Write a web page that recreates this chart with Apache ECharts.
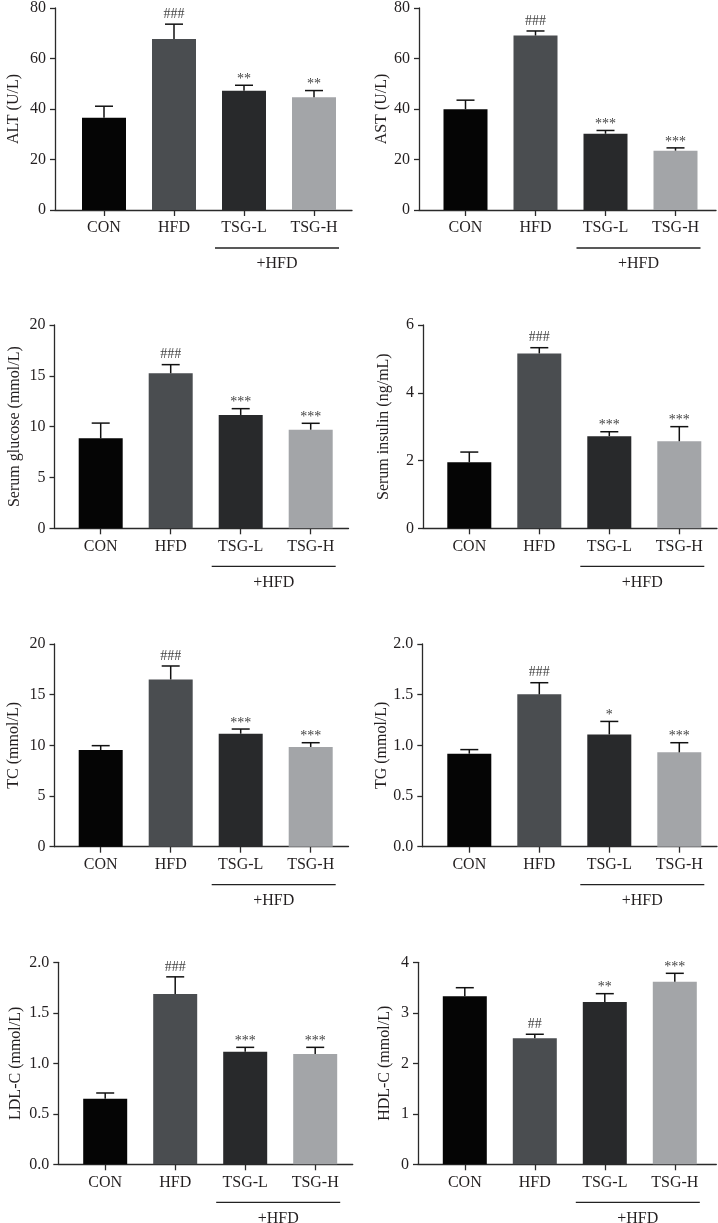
<!DOCTYPE html>
<html><head><meta charset="utf-8">
<script src="https://cdn.jsdelivr.net/npm/echarts@6/dist/echarts.min.js"></script>
<style>html,body{margin:0;padding:0;background:#fff}#c{width:718px;height:1223px}</style>
</head><body><div id="c"></div>
<script>
// ---------- data ----------
const categories = ['CON', 'HFD', 'TSG-L', 'TSG-H'];
const groupLabel = '+HFD';

const altTitle = 'ALT (U/L)';
const altTicks = [0, 20, 40, 60, 80];
const altMean = [36.5, 67.7, 47.2, 44.7];
const altErr = [4.6, 5.9, 2.2, 2.6];
const altSig = ['', '###', '**', '**'];

const astTitle = 'AST (U/L)';
const astTicks = [0, 20, 40, 60, 80];
const astMean = [39.9, 69.1, 30.2, 23.5];
const astErr = [3.6, 1.8, 1.3, 1.1];
const astSig = ['', '###', '***', '***'];

const gluTitle = 'Serum glucose (mmol/L)';
const gluTicks = [0, 5, 10, 15, 20];
const gluMean = [8.85, 15.25, 11.15, 9.7];
const gluErr = [1.5, 0.85, 0.62, 0.63];
const gluSig = ['', '###', '***', '***'];

const insTitle = 'Serum insulin (ng/mL)';
const insTicks = [0, 2, 4, 6];
const insMean = [1.95, 5.16, 2.72, 2.57];
const insErr = [0.3, 0.17, 0.13, 0.43];
const insSig = ['', '###', '***', '***'];

const tcTitle = 'TC (mmol/L)';
const tcTicks = [0, 5, 10, 15, 20];
const tcMean = [9.54, 16.5, 11.15, 9.84];
const tcErr = [0.43, 1.33, 0.46, 0.42];
const tcSig = ['', '###', '***', '***'];

const tgTitle = 'TG (mmol/L)';
const tgTicks = [0.0, 0.5, 1.0, 1.5, 2.0];
const tgMean = [0.918, 1.503, 1.108, 0.931];
const tgErr = [0.04, 0.115, 0.128, 0.095];
const tgSig = ['', '###', '*', '***'];

const ldlTitle = 'LDL-C (mmol/L)';
const ldlTicks = [0.0, 0.5, 1.0, 1.5, 2.0];
const ldlMean = [0.65, 1.686, 1.115, 1.092];
const ldlErr = [0.056, 0.17, 0.043, 0.066];
const ldlSig = ['', '###', '***', '***'];

const hdlTitle = 'HDL-C (mmol/L)';
const hdlTicks = [0, 1, 2, 3, 4];
const hdlMean = [3.327, 2.495, 3.214, 3.617];
const hdlErr = [0.17, 0.08, 0.165, 0.165];
const hdlSig = ['', '##', '**', '***'];

const tickDecimals = [0, 0, 0, 0, 0, 1, 1, 0];

// ---------- layout / style ----------
const barColors = ['#050505', '#4a4d50', '#28292b', '#a3a5a8'];
const panels = [
  { title: altTitle, ticks: altTicks, mean: altMean, err: altErr, sig: altSig },
  { title: astTitle, ticks: astTicks, mean: astMean, err: astErr, sig: astSig },
  { title: gluTitle, ticks: gluTicks, mean: gluMean, err: gluErr, sig: gluSig },
  { title: insTitle, ticks: insTicks, mean: insMean, err: insErr, sig: insSig },
  { title: tcTitle, ticks: tcTicks, mean: tcMean, err: tcErr, sig: tcSig },
  { title: tgTitle, ticks: tgTicks, mean: tgMean, err: tgErr, sig: tgSig },
  { title: ldlTitle, ticks: ldlTicks, mean: ldlMean, err: ldlErr, sig: ldlSig },
  { title: hdlTitle, ticks: hdlTicks, mean: hdlMean, err: hdlErr, sig: hdlSig }
];
const layouts = [
  { left: 55, right: 352, top: 7, bottom: 210, first: 104, gap: 33 },
  { left: 419, right: 716, top: 7, bottom: 210, first: 465.5, gap: 29 },
  { left: 54.5, right: 348.5, top: 325, bottom: 528.3, first: 100.7, gap: 32 },
  { left: 423, right: 717, top: 325, bottom: 528.3, first: 469.3, gap: 31 },
  { left: 54.5, right: 348.5, top: 644, bottom: 846.7, first: 100.7, gap: 33 },
  { left: 422.3, right: 717, top: 644, bottom: 846.7, first: 469.3, gap: 32 },
  { left: 58.3, right: 352.7, top: 962.3, bottom: 1164.3, first: 105.2, gap: 35 },
  { left: 418, right: 716.3, top: 962.3, bottom: 1164.3, first: 464.8, gap: 25 }
];
const STEP = 70;
const FONT = '"Liberation Serif", "DejaVu Serif", serif';
const TXT = '#231f20';
const AXC = '#2a2a2a';

const grids = [], xAxes = [], yAxes = [], series = [];
panels.forEach((p, i) => {
  const L = layouts[i];
  const W = L.right - L.left;
  const xmin = -(L.first - L.left) / STEP;
  const xmax = xmin + W / STEP;
  grids.push({ left: L.left, top: L.top, width: W, height: L.bottom - L.top, containLabel: false });
  xAxes.push({
    type: 'value', gridIndex: i, min: xmin, max: xmax,
    splitLine: { show: false },
    axisLine: { show: true, onZero: false, lineStyle: { color: AXC, width: 1.3 } },
    axisTick: { show: true, customValues: [0, 1, 2, 3], length: 6, lineStyle: { color: AXC, width: 1.3 } },
    axisLabel: {
      show: true, customValues: [0, 1, 2, 3], margin: 10,
      formatter: v => categories[Math.round(v)] || '',
      fontFamily: FONT, fontSize: 16, color: TXT
    }
  });
  const t = p.ticks;
  yAxes.push({
    type: 'value', gridIndex: i, min: t[0], max: t[t.length - 1], interval: t[1] - t[0],
    name: p.title, nameLocation: 'middle', nameGap: L.gap,
    nameTextStyle: { fontFamily: FONT, fontSize: 16, color: TXT },
    splitLine: { show: false },
    axisLine: { show: true, onZero: false, lineStyle: { color: AXC, width: 1.3 } },
    axisTick: { show: true, length: 5, lineStyle: { color: AXC, width: 1.3 } },
    axisLabel: {
      margin: 9, fontFamily: FONT, fontSize: 16, color: TXT,
      formatter: v => Number(v).toFixed(tickDecimals[i])
    }
  });
  series.push({
    type: 'bar', xAxisIndex: i, yAxisIndex: i, barWidth: 44,
    data: p.mean.map((m, k) => ({ value: [k, m], itemStyle: { color: barColors[k] } })),
    silent: true, animation: false
  });
  const sigArr = p.sig;
  series.push({
    type: 'custom', xAxisIndex: i, yAxisIndex: i, z: 5, animation: false, silent: true,
    encode: { x: 0, y: 1 },
    data: p.mean.map((m, k) => [k, m, p.err[k]]),
    renderItem: (params, api) => {
      const x = api.value(0), m = api.value(1), e = api.value(2);
      const p0 = api.coord([x, m]);
      const p1 = api.coord([x, m + e]);
      const cap = 9;
      const ls = { stroke: '#111', lineWidth: 1.5 };
      const children = [
        { type: 'line', shape: { x1: p0[0], y1: p0[1], x2: p1[0], y2: p1[1] }, style: ls },
        { type: 'line', shape: { x1: p1[0] - cap, y1: p1[1], x2: p1[0] + cap, y2: p1[1] }, style: ls }
      ];
      const s = sigArr[params.dataIndex];
      if (s) {
        const isHash = s[0] === '#';
        children.push({
          type: 'text', x: p1[0], y: p1[1] - (isHash ? 3 : -1),
          style: { text: s, fill: '#444', font: '14px ' + FONT, textAlign: 'center', textVerticalAlign: 'bottom' }
        });
      }
      return { type: 'group', children };
    }
  });
});

const chart = echarts.init(document.getElementById('c'), null, { renderer: 'canvas' });
chart.setOption({
  animation: false,
  backgroundColor: '#fff',
  grid: grids, xAxis: xAxes, yAxis: yAxes, series: series
});

// "+HFD" group brackets, positioned from the axes
const graphics = [];
panels.forEach((p, i) => {
  const a = chart.convertToPixel({ gridIndex: i }, [2, 0]);
  const b = chart.convertToPixel({ gridIndex: i }, [3, 0]);
  const x1 = a[0] - 29, x2 = b[0] + 25, y = a[1] + 38;
  graphics.push({ type: 'line', shape: { x1, y1: y, x2, y2: y }, style: { stroke: '#222', lineWidth: 1.3 } });
  graphics.push({ type: 'text', x: (x1 + x2) / 2, y: y + 16, style: { text: groupLabel, font: '16px ' + FONT, fill: TXT, textAlign: 'center', textVerticalAlign: 'middle' } });
});
chart.setOption({ graphic: graphics });
</script>
</body></html>
